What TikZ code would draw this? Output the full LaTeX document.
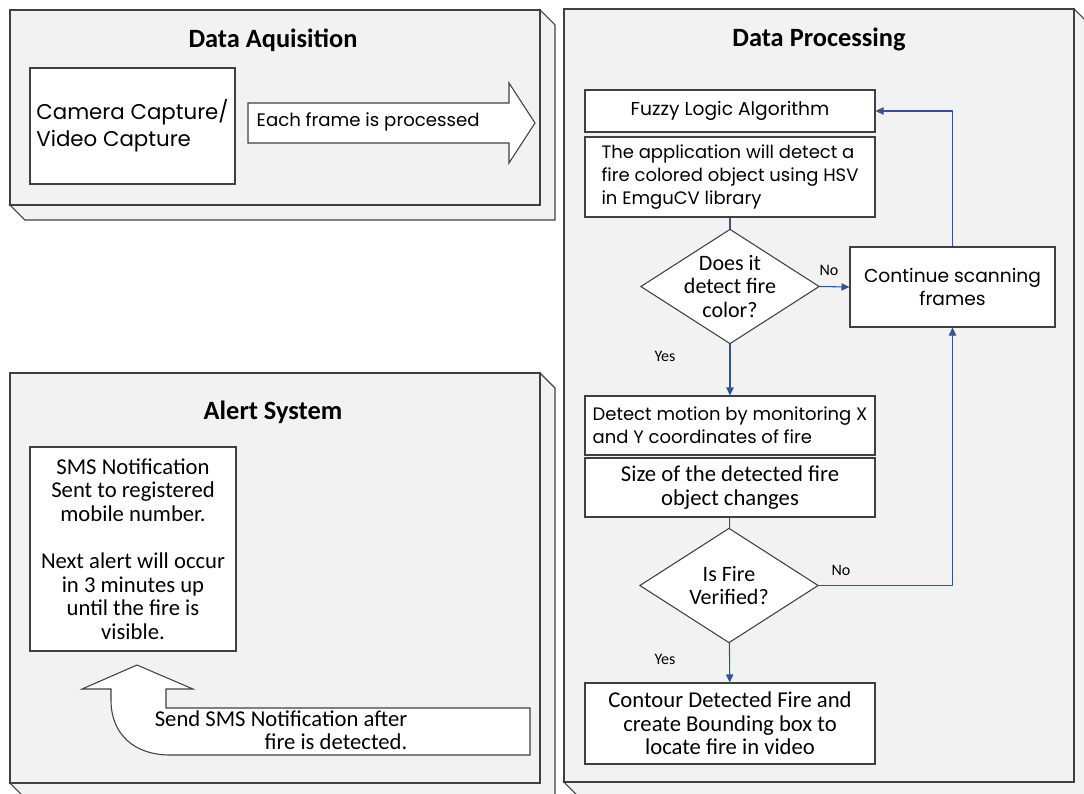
\documentclass[tikz,border=0pt]{standalone}
\usepackage{fontspec}
\setmainfont{Carlito}
\newfontfamily\gothic{Poppins}
\usetikzlibrary{shapes.geometric,arrows.meta}

\definecolor{flowblue}{RGB}{47,85,151}
\definecolor{framegray}{RGB}{242,242,242}
\definecolor{edgegray}{RGB}{64,64,64}

\begin{document}
\begin{tikzpicture}[x=0.75pt,y=-0.75pt,
    frame/.style={draw=edgegray,fill=framegray,line width=0.8pt},
    title/.style={font=\bfseries\fontsize{19.8}{22}\selectfont},
    box/.style={draw=edgegray,fill=white,line width=0.8pt,minimum width=217.5pt,
        inner sep=0pt,align=center,font=\fontsize{17}{17.7}\selectfont},
    gbox/.style={box,font=\gothic\fontsize{13.5}{17.5}\selectfont},
    decision/.style={draw=edgegray,fill=white,line width=0.8pt,shape=diamond,
        minimum width=134pt,minimum height=86pt,inner sep=0pt},
    qtext/.style={align=center,font=\fontsize{16.5}{17.5}\selectfont},
    flow/.style={draw=flowblue,line width=0.8pt},
    arr/.style={flow,-{Triangle[length=6pt,width=5.5pt]}},
    tag/.style={font=\fontsize{12}{14}\selectfont}]

    \clip (0,0) rectangle (1084,793);

    % Data Aquisition
    \draw[frame] (540,10) -- (555,25) -- (555,220) -- (25,220) -- (10,205) -- (540,205) -- cycle;
    \draw[frame] (10,10) rectangle (540,205);
    \node[title] (acqtitle) at (273,40) {Data Aquisition};
    \node[gbox,minimum width=153.75pt,minimum height=87pt,align=left,
        font=\gothic\fontsize{16}{20}\selectfont] (cam) at (132.5,126) {Camera Capture/\\Video Capture};
    \draw[draw=edgegray,fill=white,line width=0.8pt] (248,103) -- (509,103) -- (509,83) -- (535,123)
        -- (509,163) -- (509,143) -- (248,143) -- cycle;
    \node[anchor=west,font=\gothic\fontsize{13.6}{15}\selectfont] (eachtxt) at (252,122) {Each frame is processed};

    % Alert System
    \draw[frame] (540,373) -- (555,388) -- (555,798) -- (25,798) -- (10,783) -- (540,783) -- cycle;
    \draw[frame] (10,373) rectangle (540,783);
    \node[title] (alerttitle) at (273,412) {Alert System};
    \node[box,minimum width=154.5pt,minimum height=153pt] (sms) at (133,549)
        {SMS Notification\\Sent to registered\\mobile number.\\[17.5pt]Next alert will occur\\in 3 minutes up\\until the fire is\\visible.};
    \draw[draw=edgegray,fill=white,line width=0.8pt] (137,665) -- (193,689) -- (166,689) -- (166,708)
        -- (530,708) -- (530,755) -- (170,755) .. controls (135,755) and (111,735) .. (111,700)
        -- (111,689) -- (82,689) -- cycle;
    \node[anchor=east,align=right,font=\fontsize{17}{17.5}\selectfont] (sendtxt) at (412,730.5)
        {Send SMS Notification after\\fire is detected.};

    % Data Processing
    \draw[frame] (1074,9) -- (1089,24) -- (1089,797) -- (579,797) -- (564,782) -- (1074,782) -- cycle;
    \draw[frame] (564,9) rectangle (1074,782);
    \node[title] (proctitle) at (819,39) {Data Processing};

    \node[gbox,minimum height=31.5pt,font=\gothic\fontsize{14}{17.5}\selectfont] (fuzzy) at (730,111) {Fuzzy Logic Algorithm};
    \node[gbox,minimum height=60pt,align=left] (app) at (730,177)
        {The application will detect a\\fire colored object using HSV\\in EmguCV library};
    \node[decision,label={[qtext]center:Does it\\detect fire\\color?}] (colorq) at (730,286.5) {};
    \node[gbox,minimum width=153.75pt,minimum height=60pt,font=\gothic\fontsize{14}{17.5}\selectfont] (scan) at (952.5,287) {Continue scanning\\frames};
    \node[gbox,minimum height=44.25pt,align=left] (motion) at (730,425.5)
        {Detect motion by monitoring X\\and Y coordinates of fire};
    \node[box,minimum height=44.25pt] (size) at (730,487.5) {Size of the detected fire\\object changes};
    \node[decision,label={[qtext]center:Is Fire\\Verified?}] (verify) at (729,585.5) {};
    \node[box,minimum height=60.75pt] (contour) at (730,723.5)
        {Contour Detected Fire and\\create Bounding box to\\locate fire in video};

    % flow
    \draw[flow] (app) -- (colorq);
    \draw[arr] (colorq) -- (motion);
    \draw[arr] (colorq.east) -- (scan.west);
    \draw[arr] (scan.north) |- (fuzzy.east);
    \draw[flow] (size) -- (verify);
    \draw[arr] (verify.east) -| (scan.south);
    \draw[arr] (verify) -- (contour);

    \node[tag] (yes1) at (665,356) {Yes};
    \node[tag] (no1) at (829,270) {No};
    \node[tag] (no2) at (841,570) {No};
    \node[tag] (yes2) at (665,659) {Yes};
\end{tikzpicture}
\end{document}
